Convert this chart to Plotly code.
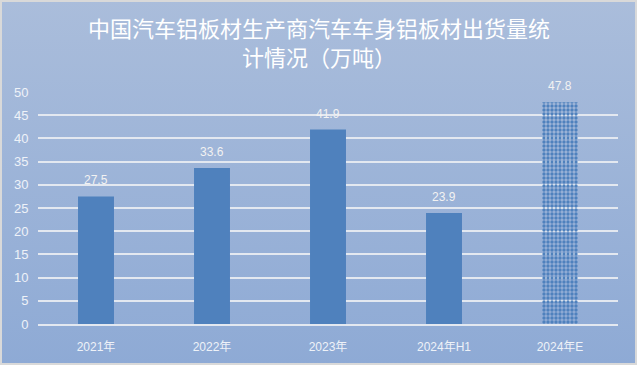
import plotly.graph_objects as go
import base64

categories = ["2021年", "2022年", "2023年", "2024年H1", "2024年E"]
values = [27.5, 33.6, 41.9, 23.9, 47.8]
value_labels = ["27.5", "33.6", "41.9", "23.9", "47.8"]
y_ticks = [0, 5, 10, 15, 20, 25, 30, 35, 40, 45, 50]
title_line1 = "中国汽车铝板材生产商汽车车身铝板材出货量统"
title_line2 = "计情况（万吨）"

W, H = 637, 365
L, R, T, B = 38, 19, 92, 41
pw, ph = W - L - R, H - T - B

svg = f'''<svg xmlns="http://www.w3.org/2000/svg" width="{W}" height="{H}" viewBox="0 0 {W} {H}" preserveAspectRatio="none">
<defs><linearGradient id="g" x1="0" y1="0" x2="0" y2="1">
<stop offset="0" stop-color="#aabddb"/><stop offset="1" stop-color="#8eaad5"/></linearGradient></defs>
<rect x="0" y="0" width="{W}" height="{H}" fill="url(#g)"/>
<rect x="1" y="1" width="{W-2}" height="{H-2}" fill="none" stroke="#d9d9d9" stroke-width="2"/>
</svg>'''
src = "data:image/svg+xml;base64," + base64.b64encode(svg.encode()).decode()

solid = "#4f81bd"
colors = [solid] * len(values)
shapes_pat = [""] * (len(values) - 1) + ["."]

fig = go.Figure()
fig.add_trace(go.Bar(
    x=categories, y=values,
    marker=dict(color=colors, line=dict(width=0),
                pattern=dict(shape=shapes_pat, fgcolor="white", bgcolor=solid,
                             size=4, solidity=0.55, fillmode="replace")),
    width=0.31,
))

annotations = []
for c, v, t in zip(categories, values, value_labels):
    annotations.append(dict(x=c, y=v, xref="x", yref="y", text=t, showarrow=False,
                            yshift=16, xanchor="center", yanchor="middle",
                            font=dict(color="#f2f2f2", size=12, family="Liberation Sans, Arial")))
annotations += [
    dict(text=title_line1, xref="paper", yref="paper",
         x=(W / 2 - L) / pw, y=1 + (T - 27) / ph, showarrow=False,
         xanchor="center", yanchor="middle",
         font=dict(size=22, color="white", family="Noto Sans CJK SC")),
    dict(text=title_line2, xref="paper", yref="paper",
         x=(W / 2 - L) / pw, y=1 + (T - 56) / ph, showarrow=False,
         xanchor="center", yanchor="middle",
         font=dict(size=22, color="white", family="Noto Sans CJK SC")),
]

fig.update_layout(
    width=W, height=H,
    margin=dict(l=L, r=R, t=T, b=B),
    paper_bgcolor="rgba(0,0,0,0)",
    plot_bgcolor="rgba(0,0,0,0)",
    showlegend=False,
    images=[dict(source=src, xref="paper", yref="paper",
                 x=-L / pw, y=1 + T / ph, sizex=W / pw, sizey=H / ph,
                 xanchor="left", yanchor="top", sizing="stretch", layer="below")],
    annotations=annotations,
)
fig.update_yaxes(range=[0, 50], tickvals=y_ticks, showgrid=True,
                 gridcolor="#e3e8f0", gridwidth=1.5, zeroline=False,
                 showline=False, ticks="outside", ticklen=6, tickcolor="rgba(0,0,0,0)",
                 tickfont=dict(color="#eef2f8", size=13, family="Liberation Sans, Arial"))
fig.update_xaxes(showline=True, linecolor="#e3e8f0", linewidth=1.5,
                 ticks="outside", ticklen=11, tickcolor="rgba(0,0,0,0)",
                 tickfont=dict(color="#eef2f8", size=12, family="Liberation Sans, Noto Sans CJK SC"))

fig.write_html("out.html")
